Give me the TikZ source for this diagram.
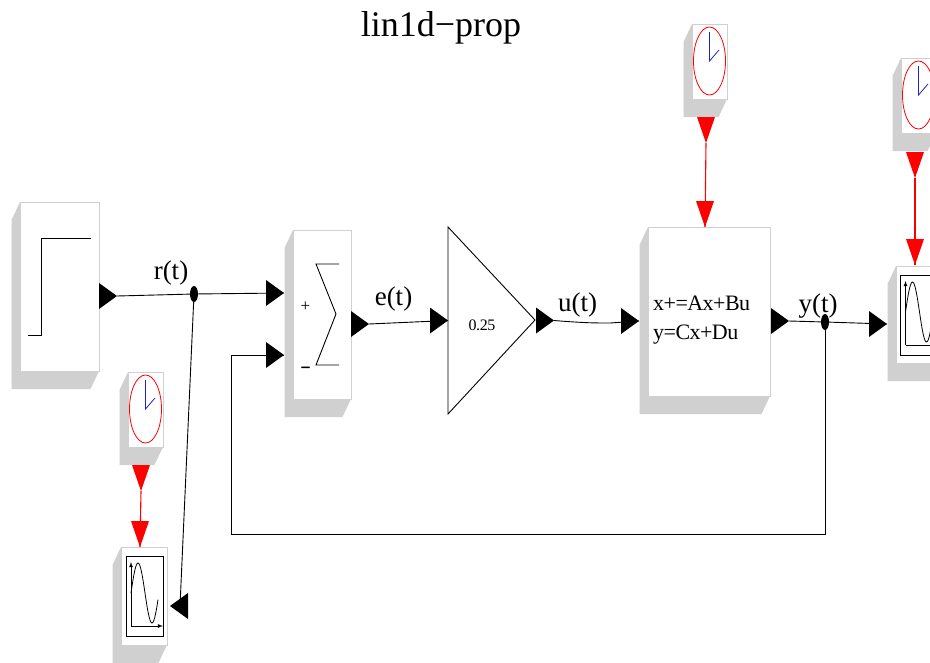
\documentclass[tikz,border=0pt]{standalone}
\usepackage{fontspec}
\setmainfont{Liberation Serif}
\newfontfamily\tightserif[LetterSpace=-2.5]{Liberation Serif}
\newfontfamily\heavyserif[FakeBold=3]{Liberation Serif}
\usetikzlibrary{arrows,shapes,positioning,calc}

\definecolor{shadowgray}{HTML}{D0D0D0}
\definecolor{wirered}{HTML}{FF0000}
\definecolor{handblue}{HTML}{2020D0}

\tikzset{
    wire/.style={line width=0.9pt},
    redwire/.style={line width=1.1pt,color=wirered},
    face/.style={draw=shadowgray,fill=white,line width=0.8pt,inner sep=0pt,outer sep=0pt,anchor=north west},
    siglabel/.style={font=\fontsize{27}{27}\selectfont,inner sep=0pt},
    eqlabel/.style={font=\tightserif\fontsize{22}{22}\selectfont,inner sep=0pt,anchor=base west},
    splitdot/.style={ellipse,fill=black,inner sep=0pt,minimum width=8pt,minimum height=16pt},
    clockicon/.pic={
        \draw[wirered,line width=0.8pt] (0,0) ellipse (16 and 34);
        \draw[handblue,line width=0.8pt] (0,-29) -- (0,0) -- (9.5,-11);
    },
    scopeicon/.pic={
        \draw[line width=1pt] (0,0) rectangle (37,80);
        \draw[line width=0.8pt,-latex] (5,70) -- (5,6);
        \draw[line width=0.8pt,-latex] (5,70) -- (37,70);
        \draw[line width=0.8pt,domain=0:27,smooth,variable=\x,samples=40] plot ({\x+5},{37-30*sin(\x*360/28)});
    }
}

% block with its grey side and foot
\newcommand{\simblock}[5]{
    \fill[shadowgray] (#2,#3) -- ++(-8.5,18) -- ++(0,#5) -- ++(#4,0) -- ++(8.5,-18) -- cycle;
    \node[face,minimum width=#4pt,minimum height=#5pt] (#1) at (#2,#3) {};
}

\begin{document}
\begin{tikzpicture}[x=1pt,y=-1pt]
    \useasboundingbox (0,0) rectangle (930,662);
    \clip (0,0) rectangle (930,662);

    % Title
    \node[font=\fontsize{36}{36}\selectfont,inner sep=0pt] (title) at (441,28) {lin1d−prop};

    % Blocks
    \simblock{stepblock}{20}{202}{79}{169}
    \simblock{sumblock}{293}{230}{58}{169}
    \simblock{stateblock}{648}{227}{122}{169}
    \simblock{clocka}{692}{24}{35}{75}
    \simblock{clockb}{901}{58}{35}{75}
    \simblock{clockc}{128}{372}{35}{75}
    \simblock{scopea}{896}{266}{46}{97}
    \simblock{scopeb}{121}{547}{46}{98}
    \draw[line width=0.9pt] (448,227) -- (448,414) -- (535,320) -- cycle;
    \node[font=\tightserif\fontsize{16}{16}\selectfont,inner sep=0pt] (gainlabel) at (482,325.5) {0.25};

    % Block contents
    \draw[line width=0.9pt] (28,335) -- (41,335) -- (41,238.5) -- (91,238.5);
    \draw[line width=0.9pt] (339,264) -- (316,264) -- (336,314) -- (316,365) -- (339,365);
    \node[font=\fontsize{17}{17}\selectfont,inner sep=0pt] (plussign) at (305.5,307) {+};
    \node[font=\heavyserif\fontsize{17}{17}\selectfont,inner sep=0pt] (minussign) at (305.5,370) {−};
    \node[eqlabel] (eqx) at (653,310) {x+=Ax+Bu};
    \node[eqlabel] (eqy) at (653,339) {y=Cx+Du};
    \pic at (145.5,409) {clockicon};
    \pic at (709.5,61) {clockicon};
    \pic at (918.5,95) {clockicon};
    \pic at (126,556) {scopeicon};
    \pic at (900.5,275) {scopeicon};

    % Ports (tip coordinates)
    \coordinate (stepout) at (117,296);
    \coordinate (sumplus) at (284,293);
    \coordinate (summinus) at (284,355);
    \coordinate (sumout) at (369,324);
    \coordinate (gainin) at (448,320.5);
    \coordinate (gainout) at (554,320.5);
    \coordinate (statein) at (639,321);
    \coordinate (stateout) at (789,321);
    \coordinate (scopeain) at (887,324);
    \coordinate (scopebin) at (180,606);
    \foreach \tip in {stepout,sumplus,summinus,sumout,gainin,gainout,statein,stateout,scopeain}
        \fill (\tip) -- ++(-18,-13) -- ++(0,26) -- cycle;
    \fill (170,606) -- ++(18,-13) -- ++(0,26) -- cycle;

    % Event ports
    \coordinate (clockaout) at (706,143);
    \coordinate (stateev) at (705,227);
    \coordinate (clockbout) at (915,178);
    \coordinate (scopeaev) at (915,265);
    \coordinate (clockcout) at (141,491);
    \coordinate (scopebev) at (140,547);
    \foreach \tip in {clockaout,stateev,clockbout,scopeaev,clockcout,scopebev}
        \fill[wirered] (\tip) -- ++(-9,-26) -- ++(18,0) -- cycle;

    % Split points
    \node[splitdot] (splitr) at (194,294) {};
    \node[splitdot] (splity) at (825,322) {};

    % Signals
    \draw[wire] (stepout) -- (splitr) -- (sumplus);
    \draw[wire] (splitr) -- (scopebin);
    \draw[wire] (sumout) -- (gainin);
    \draw[wire] (gainout) .. controls (585,323) and (595,323) .. (610,323) -- (statein);
    \draw[wire] (stateout) -- (splity) -- (scopeain);
    \draw[wire] (splity) -- (825,534) -- (231.5,534) -- (231.5,355) -- (summinus);
    \draw[redwire] (clockaout) -- (stateev);
    \draw[redwire] (clockbout) -- (scopeaev);
    \draw[redwire] (clockcout) -- (scopebev);

    % Signal names
    \node[siglabel] (rlabel) at (171,273) {r(t)};
    \node[siglabel] (elabel) at (393.5,299) {e(t)};
    \node[siglabel] (ulabel) at (577.5,305) {u(t)};
    \node[siglabel] (ylabel) at (818,306) {y(t)};
\end{tikzpicture}
\end{document}
